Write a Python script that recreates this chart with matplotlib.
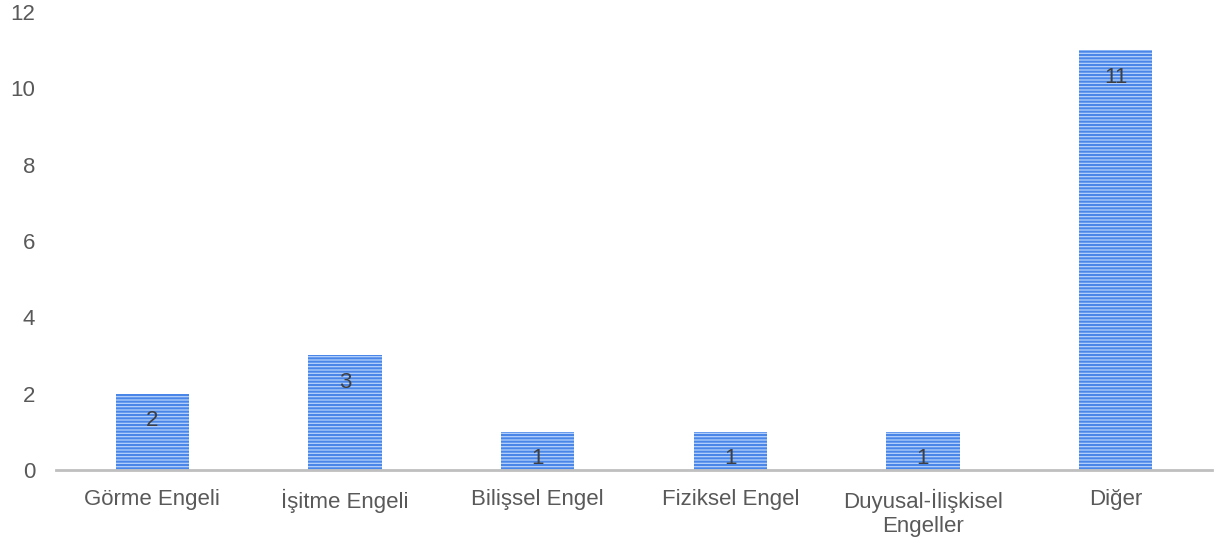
import matplotlib.pyplot as plt
import numpy as np

plt.rcParams['font.family'] = ['Liberation Sans', 'DejaVu Sans']
plt.rcParams['hatch.linewidth'] = 1.5

categories = ['Görme Engeli', 'İşitme Engeli', 'Bilişsel Engel', 'Fiziksel Engel',
              'Duyusal-İlişkisel\nEngeller', 'Diğer']
values = [2, 3, 1, 1, 1, 11]

fig = plt.figure(figsize=(12.18, 5.49), dpi=100)
ax = fig.add_axes([0.046, 0.144, 0.949, 0.834])

x = np.arange(len(categories))
bars = ax.bar(x, values, width=0.38, color='#b5d2fa', edgecolor='#4a86e8',
              hatch='-----', linewidth=0)

# value labels just inside the top of each bar
for b, v in zip(bars, values):
    ax.annotate(str(v), (b.get_x() + b.get_width() / 2, v), xytext=(0, -27),
                textcoords='offset pixels',
                ha='center', va='center', fontsize=16, color='#404040')

ax.set_xlim(-0.5, len(categories) - 0.5)
ax.set_ylim(0, 12)
ax.set_yticks(range(0, 13, 2))
ax.set_xticks(x)
ax.set_xticklabels(categories)
ax.tick_params(axis='both', length=0, labelsize=16, labelcolor='#595959')
ax.tick_params(axis='y', pad=15)
ax.tick_params(axis='x', pad=13.5)
for s in ['top', 'right', 'left']:
    ax.spines[s].set_visible(False)
ax.spines['bottom'].set_color('#bfbfbf')
ax.spines['bottom'].set_linewidth(2)

fig.savefig('out.png', dpi=100)
